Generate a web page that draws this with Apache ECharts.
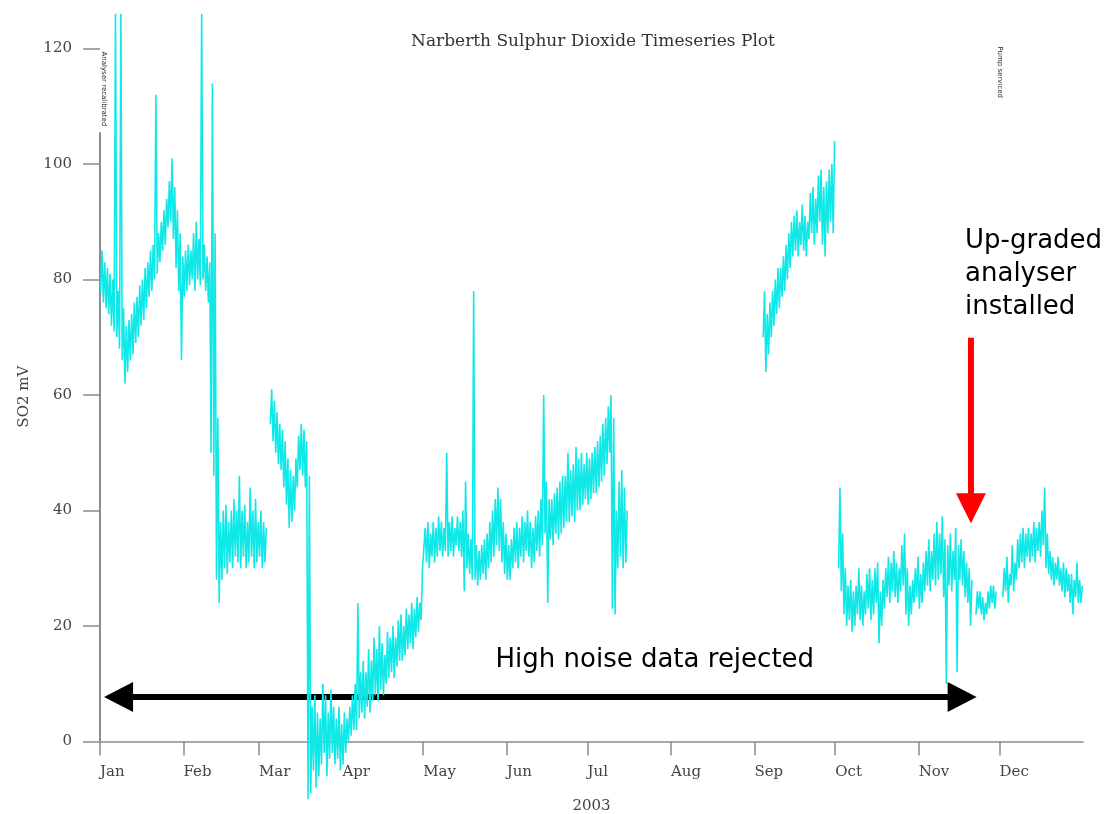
<!DOCTYPE html>
<html>
<head>
<meta charset="utf-8">
<title>Narberth Sulphur Dioxide Timeseries Plot</title>
<script src="https://cdn.jsdelivr.net/npm/echarts@6/dist/echarts.min.js"></script>
<style>
  html, body { margin: 0; padding: 0; background: #fff; }
  #chart { width: 1107px; height: 814px; }
</style>
</head>
<body>
<div id="chart"></div>
<script>
// ---- axis content ----
const monthLabels = ['Jan', 'Feb', 'Mar', 'Apr', 'May', 'Jun', 'Jul', 'Aug', 'Sep', 'Oct', 'Nov', 'Dec'];
const monthStarts = ['2003-01-01', '2003-02-01', '2003-03-01', '2003-04-01', '2003-05-01', '2003-06-01',
                     '2003-07-01', '2003-08-01', '2003-09-01', '2003-10-01', '2003-11-01', '2003-12-01'];
const yTickValues = [0, 20, 40, 60, 80, 100, 120];

// ---- SO2 readings: each block has a first day and the daily low / high (mV) ----
const winterStart = '2003-01-01';
const winterLow = [78, 76, 75, 74, 72, 71, 70, 68, 66, 62, 64, 66, 67, 69, 70, 72, 73, 75, 77, 78,
                   80, 81, 83, 85, 86, 89, 90, 87, 82, 78, 66, 77, 78, 79, 80, 78, 80, 79, 80, 78,
                   76, 50, 46, 28, 24, 28, 30, 29, 31, 30, 32, 31, 30, 32, 30, 31, 32, 30, 31, 32,
                   30, 31];
const winterHigh = [85, 83, 82, 81, 80, 126, 78, 126, 75, 72, 73, 74, 76, 77, 79, 80, 82, 83, 85, 86,
                    112, 88, 90, 92, 94, 97, 101, 96, 92, 88, 84, 85, 86, 85, 88, 90, 87, 126, 86, 84,
                    83, 114, 88, 56, 38, 40, 41, 38, 40, 42, 40, 46, 40, 41, 38, 44, 40, 42, 38, 40,
                    38, 37];

const marchStart = '2003-03-05';
const marchLow  = [55, 52, 50, 48, 47, 44, 41, 37, 38, 40, 44, 47, 46, 44];
const marchHigh = [61, 59, 57, 55, 54, 52, 49, 47, 46, 49, 53, 55, 54, 52];

const springStart = '2003-03-19';
const springLow = [-10, -9, -5, -8, -6, -4, -2, -6, -3, -2, -4, -3, -5, -4, -2, 0, 1, 2, 2, 4,
                   5, 4, 6, 5, 7, 8, 7, 9, 8, 10, 11, 12, 11, 13, 14, 14, 15, 16, 17, 16,
                   18, 19, 21];
const springHigh = [46, 6, 8, 5, 4, 10, 8, 5, 9, 6, 4, 6, 3, 5, 4, 6, 8, 10, 24, 12,
                    14, 12, 16, 14, 18, 16, 20, 17, 15, 19, 18, 20, 18, 21, 22, 20, 23, 22, 24, 23,
                    25, 24, 30];

const summerStart = '2003-05-01';
const summerLow = [30, 31, 30, 32, 31, 32, 33, 32, 33, 32, 33, 32, 34, 33, 32, 26, 30, 29, 28, 28,
                   27, 28, 29, 28, 30, 31, 32, 34, 33, 31, 29, 28, 28, 30, 31, 30, 32, 31, 33, 32,
                   30, 31, 33, 32, 34, 36, 24, 35, 34, 36, 35, 36, 37, 38, 38, 39, 38, 40, 40, 41,
                   42, 41, 42, 43, 43, 44, 45, 46, 48, 50, 23, 22, 30, 32, 30, 31];
const summerHigh = [37, 38, 36, 38, 37, 39, 38, 37, 50, 38, 39, 37, 39, 38, 40, 45, 36, 35, 78, 34,
                    33, 34, 35, 36, 38, 40, 42, 44, 42, 38, 36, 34, 35, 37, 38, 37, 39, 38, 40, 38,
                    37, 39, 40, 42, 60, 45, 42, 42, 43, 44, 45, 46, 46, 50, 47, 48, 51, 49, 50, 48,
                    50, 49, 50, 51, 52, 53, 55, 56, 58, 60, 56, 40, 45, 47, 44, 40];

const septemberStart = '2003-09-04';
const septemberLow  = [70, 64, 67, 70, 72, 74, 75, 77, 78, 80, 82, 84, 85, 84, 86, 85, 84, 87, 88, 86,
                       88, 90, 86, 84, 88, 90, 88];
const septemberHigh = [78, 74, 76, 78, 80, 82, 82, 84, 86, 88, 90, 91, 92, 90, 93, 91, 90, 95, 96, 94,
                       98, 99, 96, 97, 99, 100, 104];

const autumnStart = '2003-10-02';
const autumnLow  = [30, 26, 22, 20, 21, 19, 20, 22, 21, 20, 22, 23, 21, 22, 24, 17, 20, 23, 25, 24,
                    26, 25, 24, 26, 27, 22, 20, 22, 24, 25, 23, 24, 26, 27, 26, 28, 27, 28, 29, 25,
                    10, 27, 26, 28, 12, 28, 27, 25, 24, 20];
const autumnHigh = [44, 36, 30, 27, 28, 26, 27, 30, 27, 26, 29, 30, 28, 30, 31, 26, 28, 30, 32, 31,
                    33, 31, 30, 34, 36, 30, 27, 28, 30, 32, 29, 31, 33, 35, 33, 36, 38, 36, 39, 35,
                    34, 36, 33, 37, 34, 35, 33, 31, 30, 28];

const lateNovStart = '2003-11-22';
const lateNovLow  = [22, 23, 22, 21, 22, 23, 24, 23];
const lateNovHigh = [26, 26, 25, 24, 26, 27, 27, 26];

const decemberStart = '2003-12-02';
const decemberLow  = [25, 26, 24, 27, 26, 28, 30, 31, 30, 32, 31, 32, 31, 33, 32, 34, 30, 29, 28, 27,
                      28, 27, 26, 25, 26, 24, 22, 25, 24, 24];
const decemberHigh = [30, 32, 29, 34, 31, 35, 36, 37, 36, 37, 36, 38, 37, 38, 40, 44, 36, 33, 32, 31,
                      32, 30, 31, 30, 29, 29, 28, 31, 28, 27];

// ---- annotation anchors, in (day of year, mV) ----
const rejectedSpan = [1.5, 325.5];
const rejectedLevel = 7.7;
const rejectedText = 'High noise data rejected';
const rejectedTextAt = [206, 14.1];
const upgradeDay = 323.4;
const upgradeArrowFrom = 69.9;
const upgradeArrowTo = 37.8;
const upgradeText = 'Up-graded\nanalyser\ninstalled';
const upgradeTextAt = [321.2, 89.5];
const logNotes = ['Analyser recalibrated', 'Pump serviced'];
const logNoteAt = [[1.5, 113], [334.2, 115.9]];
const axisLineTop = 105.5;

// ---- helpers ----
function dayOf(s) {
  const p = s.split('-').map(Number);
  return (Date.UTC(p[0], p[1] - 1, p[2]) - Date.UTC(2003, 0, 1)) / 86400000;
}
const monthDays = monthStarts.map(dayOf);

const blocks = [
  { start: winterStart, low: winterLow, high: winterHigh },
  { start: marchStart, low: marchLow, high: marchHigh },
  { start: springStart, low: springLow, high: springHigh },
  { start: summerStart, low: summerLow, high: summerHigh },
  { start: septemberStart, low: septemberLow, high: septemberHigh },
  { start: autumnStart, low: autumnLow, high: autumnHigh },
  { start: lateNovStart, low: lateNovLow, high: lateNovHigh },
  { start: decemberStart, low: decemberLow, high: decemberHigh }
];

// The trace swings between each day's low and high; a gap between blocks breaks it.
const so2Points = [];
let lastDay = null;
blocks.forEach(b => {
  const d0 = dayOf(b.start);
  if (lastDay !== null && d0 !== lastDay + 1) so2Points.push([d0 - 0.5, null]);
  b.low.forEach((lo, i) => {
    so2Points.push([d0 + i + 0.25, lo]);
    so2Points.push([d0 + i + 0.75, b.high[i]]);
  });
  lastDay = d0 + b.low.length - 1;
});

const serif = '"DejaVu Serif", "Liberation Serif", serif';
const sans = '"DejaVu Sans", Verdana, sans-serif';
const axisGrey = '#8a8a8a';

const chart = echarts.init(document.getElementById('chart'), null, { renderer: 'canvas' });

chart.setOption({
  backgroundColor: '#ffffff',
  animation: false,
  title: {
    text: 'Narberth Sulphur Dioxide Timeseries Plot',
    left: 588,
    top: 28,
    textAlign: 'center',
    textStyle: { fontFamily: serif, fontSize: 17, fontWeight: 'normal', color: '#333' }
  },
  grid: { left: 100, right: 24, top: 13.85, bottom: 72.5, containLabel: false, outerBoundsMode: 'none' },
  xAxis: {
    type: 'value',
    min: 0,
    max: 365,
    name: '2003',
    nameLocation: 'middle',
    nameGap: 57,
    nameTextStyle: { fontFamily: serif, fontSize: 15, color: '#444' },
    axisLine: { show: true, onZero: true, lineStyle: { color: axisGrey, width: 1.5 } },
    axisTick: { show: true, customValues: monthDays, length: 14, lineStyle: { color: axisGrey, width: 1.5 } },
    axisLabel: {
      customValues: monthDays,
      formatter: v => monthLabels[monthDays.indexOf(v)],
      align: 'left',
      margin: 23,
      fontFamily: serif,
      fontSize: 15,
      color: '#444'
    },
    splitLine: { show: false }
  },
  yAxis: {
    type: 'value',
    min: 0,
    max: 126,
    name: 'SO2 mV',
    nameLocation: 'middle',
    nameRotate: 90,
    nameGap: 68,
    nameTextStyle: { fontFamily: serif, fontSize: 15, color: '#444', padding: [0, 38, 0, 0] },
    axisLine: { show: false },
    axisTick: { show: true, customValues: yTickValues, length: 17, lineStyle: { color: axisGrey, width: 1.5 } },
    axisLabel: { customValues: yTickValues, margin: 28, fontFamily: serif, fontSize: 15, color: '#444' },
    splitLine: { show: false }
  },
  series: [{
    name: 'SO2',
    type: 'line',
    data: so2Points,
    showSymbol: false,
    symbol: 'none',
    connectNulls: false,
    clip: false,
    lineStyle: { color: '#10e8e8', width: 1.6 },
    emphasis: { disabled: true },
    silent: true
  }]
});

// ---- annotations placed through the chart's own coordinate system ----
const px = p => chart.convertToPixel({ gridIndex: 0 }, p);
const g = [];

// y axis rule (runs from zero up to the log note)
const a0 = px([0, 0]);
const a1 = px([0, axisLineTop]);
g.push({ type: 'line', shape: { x1: a0[0], y1: a0[1], x2: a1[0], y2: a1[1] },
         style: { stroke: '#666', lineWidth: 1.5 }, silent: true });

// double-headed arrow over the rejected period
const L = px([rejectedSpan[0], rejectedLevel]);
const R = px([rejectedSpan[1], rejectedLevel]);
const head = 29, half = 15;
g.push({ type: 'line', shape: { x1: L[0] + 20, y1: L[1], x2: R[0] - 20, y2: R[1] },
         style: { stroke: '#000', lineWidth: 6 }, silent: true });
g.push({ type: 'polygon', shape: { points: [[L[0], L[1]], [L[0] + head, L[1] - half], [L[0] + head, L[1] + half]] },
         style: { fill: '#000' }, silent: true });
g.push({ type: 'polygon', shape: { points: [[R[0], R[1]], [R[0] - head, R[1] - half], [R[0] - head, R[1] + half]] },
         style: { fill: '#000' }, silent: true });

const T = px(rejectedTextAt);
g.push({ type: 'text', x: T[0], y: T[1], silent: true,
         style: { text: rejectedText, font: '26px ' + sans, fill: '#000', align: 'center', verticalAlign: 'middle' } });

// red arrow marking the analyser upgrade
const U0 = px([upgradeDay, upgradeArrowFrom]);
const U1 = px([upgradeDay, upgradeArrowTo]);
g.push({ type: 'line', shape: { x1: U0[0], y1: U0[1], x2: U1[0], y2: U1[1] - 25 },
         style: { stroke: '#ff0000', lineWidth: 6 }, silent: true });
g.push({ type: 'polygon', shape: { points: [[U1[0], U1[1]], [U1[0] - 15, U1[1] - 30], [U1[0] + 15, U1[1] - 30]] },
         style: { fill: '#ff0000' }, silent: true });

const UT = px(upgradeTextAt);
g.push({ type: 'text', x: UT[0], y: UT[1], silent: true,
         style: { text: upgradeText, font: '26px ' + sans, fill: '#000', align: 'left', verticalAlign: 'top', lineHeight: 33 } });

// small rotated log notes
logNotes.forEach((note, i) => {
  const p = px(logNoteAt[i]);
  g.push({ type: 'text', x: p[0], y: p[1], rotation: -Math.PI / 2, silent: true,
           style: { text: note, font: '7px ' + sans, fill: '#222', align: 'center', verticalAlign: 'middle' } });
});

chart.setOption({ graphic: g });
</script>
</body>
</html>
